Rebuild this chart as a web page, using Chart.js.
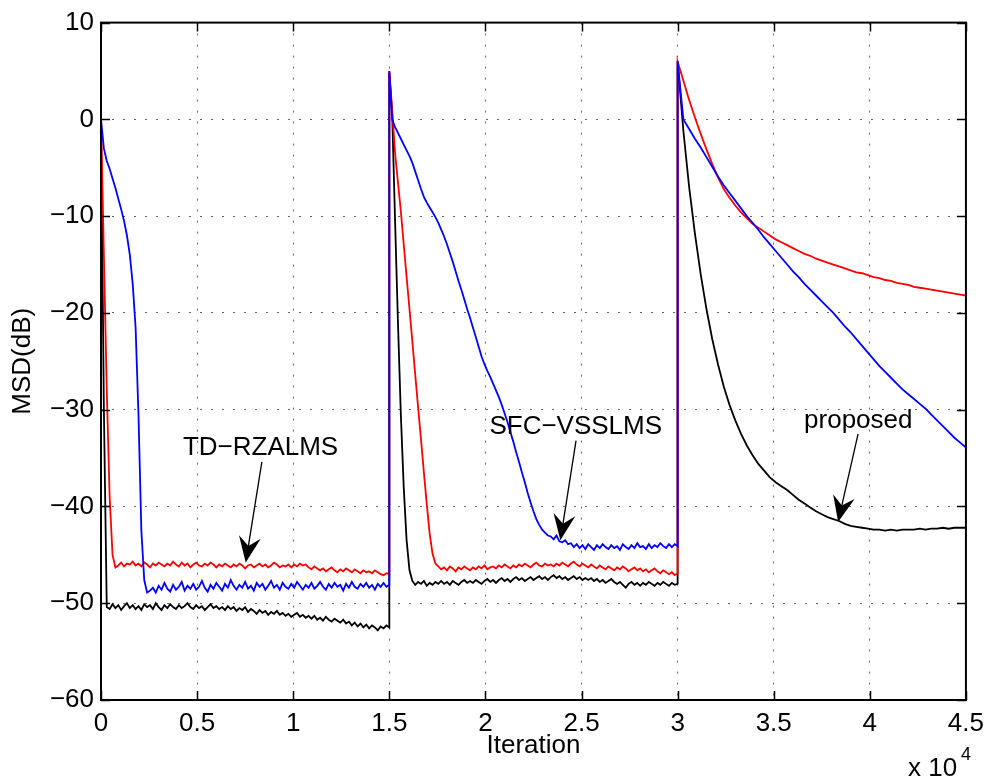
<!DOCTYPE html>
<html>
<head>
<meta charset="utf-8">
<script src="https://cdn.jsdelivr.net/npm/chart.js@4.4.1/dist/chart.umd.min.js"></script>
<style>
  html, body { margin: 0; padding: 0; background: #fff; }
  #wrap { width: 992px; height: 780px; }
</style>
</head>
<body>
<div id="wrap"><canvas id="msd" width="992" height="780"></canvas></div>
<script>
// MSD learning curves, three runs of 15000 iterations each (system changes at 1.5e4 and 3e4)
// each run is evenly sampled over its 15000 iterations (noisy runs every 150, smooth ones every 300)
// values in dB read off the figure
var runLength = 15000;

var xTickValues = [0, 5000, 10000, 15000, 20000, 25000, 30000, 35000, 40000, 45000];
var yTickValues = [-60, -50, -40, -30, -20, -10, 0, 10];

// SFC-VSSLMS (blue)
var blueRun1 = [
  0, -3.0, -4.3, -5.1, -6.1, -7.1, -8.2, -9.3, -10.5, -12.0,
  -14.0, -17.0, -21.5, -30.5, -42.5, -47.6, -48.9, -48.7,
  -48.4, -48.9, -48.2, -48.6, -47.9, -48.5, -48.8, -48.1, -48.6, -48.3,
  -47.8, -48.7, -48.2, -48.5, -48.0, -48.6, -48.3, -47.7, -48.4, -48.8,
  -48.1, -48.5, -47.9, -48.3, -48.7, -48.0, -48.4, -47.6, -48.2, -48.6,
  -48.1, -48.4, -47.8, -48.5, -48.2, -48.7, -47.9, -48.3, -48.0, -48.6,
  -48.2, -47.7, -48.4, -48.1, -48.6, -47.9, -48.3, -48.5, -48.0, -48.4,
  -47.8, -48.2, -48.6, -48.1, -48.4, -47.9, -48.5, -48.2, -47.8, -48.3,
  -48.6, -48.0, -48.4, -47.9, -48.3, -48.1, -48.7, -48.0, -48.4, -47.8,
  -48.3, -48.5, -48.0, -48.3, -47.9, -48.4, -48.1, -48.6, -48.0, -48.3,
  -47.9, -48.3, -48.1];
var blueRun2 = [
  5.0, 0.0, -0.8, -1.4, -2.0, -2.6, -3.2, -3.8, -4.5, -5.4,
  -6.3, -7.2, -8.0, -8.6, -9.1, -9.6, -10.1, -10.7, -11.4, -12.1,
  -12.9, -13.8, -14.7, -15.7, -16.7, -17.6, -18.6, -19.6, -20.5, -21.5,
  -22.5, -23.5, -24.5, -25.3, -26.0, -26.6, -27.3, -28.0, -28.7, -29.5,
  -30.4, -31.3, -32.3, -33.3, -34.4, -35.4, -36.5, -37.5, -38.6, -39.6,
  -40.5, -41.3, -41.9, -42.4, -42.7, -43.0, -43.1, -43.4, -43.0, -43.6,
  -43.7, -43.5, -43.9,
  -43.8, -44.2, -43.9, -44.3, -44.0, -44.4, -43.9, -44.2, -44.5, -44.0,
  -44.3, -43.9, -44.2, -44.4, -44.0, -44.3, -44.1, -44.5, -43.9, -44.2,
  -44.4, -44.0, -44.3, -43.8, -44.2, -44.1, -44.4, -43.9, -44.3, -44.0,
  -44.2, -43.8, -44.1, -44.3, -43.9, -44.2, -43.9, -44.1];
var blueRun3 = [
  6.0, 0.0, -1.0, -2.0, -2.9, -3.9, -4.9, -5.9, -6.8, -7.6,
  -8.4, -9.2, -10.0, -10.7, -11.4, -12.2, -12.9, -13.6, -14.3, -15.0,
  -15.7, -16.3, -17.0, -17.6, -18.2, -18.8, -19.4, -20.0, -20.7, -21.4,
  -22.0, -22.7, -23.4, -24.1, -24.8, -25.5, -26.1, -26.7, -27.3, -27.9,
  -28.4, -28.9, -29.4, -29.9, -30.5, -31.1, -31.7, -32.3, -32.9, -33.4,
  -33.9];
var blueRun4 = [6.0];

// TD-RZALMS (red)
var redRun1 = [
  0, -14.0, -28.0, -39.0, -45.0, -46.3,
  -46.1, -45.8, -46.2, -45.9, -46.0, -45.7, -46.1, -45.9, -46.2, -45.8,
  -46.0, -46.3, -45.9, -46.1, -45.8, -46.0, -46.2, -45.9, -46.1, -45.7,
  -46.0, -46.2, -45.8, -46.1, -45.9, -46.3, -46.0, -45.8, -46.1, -46.2,
  -45.9, -46.1, -45.8, -46.0, -46.3, -46.0, -46.2, -45.9, -46.1, -46.3,
  -46.0, -46.2, -45.9, -46.1, -46.4, -46.1, -46.0, -46.3, -46.1, -45.9,
  -46.2, -46.0, -46.3, -46.1, -45.8, -46.0, -46.3, -46.1, -46.2, -46.0,
  -46.3, -46.0, -46.2, -45.9, -46.1, -46.0, -46.3, -46.5, -46.2, -46.4,
  -46.6, -46.4, -46.7, -46.5, -46.3, -46.6, -46.8, -46.5, -46.7, -46.4,
  -46.6, -46.8, -46.5, -46.7, -46.9, -46.6, -46.8, -46.7, -46.9, -46.6,
  -46.8, -47.0, -47.1, -46.9, -47.0];
var redRun2 = [
  5.0, 1.0, -3.5, -6.5, -9.5, -12.9, -16.3, -19.6, -23.0, -26.4,
  -29.8, -33.1, -36.5, -39.8, -42.8, -44.9, -45.9,
  -46.2, -46.5, -46.3, -46.6, -46.2, -46.4, -46.7, -46.3, -46.5, -46.2,
  -46.4, -46.6, -46.3, -46.5, -46.2, -46.4, -46.1, -46.5, -46.3, -46.2,
  -46.4, -46.1, -46.3, -46.0, -46.2, -46.4, -46.1, -46.3, -46.0, -46.2,
  -45.9, -46.1, -46.3, -46.0, -45.8, -46.1, -46.2, -45.9, -46.1, -46.0,
  -46.2, -45.9, -46.1, -45.8, -46.0, -46.2, -45.9, -45.7, -46.0, -46.2,
  -45.9, -46.1, -46.3, -46.0, -46.2, -46.4, -46.1, -46.3, -46.5, -46.2,
  -46.4, -46.6, -46.3, -46.5, -46.2, -46.4, -46.7, -46.5, -46.3, -46.6,
  -46.4, -46.7, -46.5, -46.8, -46.6, -46.4, -46.7, -46.9, -46.6, -46.8,
  -47.0, -46.8, -47.1, -46.9];
var redRun3 = [
  6.0, 4.0, 2.0, 0.2, -1.5, -3.1, -4.6, -6.0, -7.2, -8.1,
  -8.9, -9.6, -10.2, -10.8, -11.2, -11.6, -12.0, -12.4, -12.7, -13.0,
  -13.3, -13.6, -13.9, -14.1, -14.4, -14.6, -14.8, -15.0, -15.2, -15.4,
  -15.6, -15.8, -15.9, -16.1, -16.3, -16.4, -16.6, -16.7, -16.9, -17.0,
  -17.1, -17.3, -17.4, -17.5, -17.6, -17.7, -17.8, -17.9, -18.0, -18.1,
  -18.2];
var redRun4 = [6.0];

// proposed (black)
var blackRun1 = [
  0, -30.0, -50.4,
  -50.6, -50.1, -50.5, -50.2, -50.7, -50.3, -50.0, -50.5, -50.2, -50.6,
  -50.3, -50.7, -50.1, -50.4, -50.2, -50.6, -50.0, -50.4, -50.7, -50.2,
  -50.5, -50.1, -50.4, -50.6, -50.2, -50.5, -50.3, -50.0, -50.4, -50.6,
  -50.2, -50.5, -50.3, -50.7, -50.4, -50.1, -50.5, -50.3, -50.6, -50.4,
  -50.7, -50.3, -50.6, -50.4, -50.8, -50.5, -50.7, -50.4, -50.9, -50.6,
  -50.8, -51.1, -50.7, -51.0, -50.8, -51.2, -50.9, -51.1, -50.8, -51.2,
  -51.0, -51.3, -51.1, -51.4, -51.2, -51.0, -51.4, -51.2, -51.5, -51.3,
  -51.6, -51.3, -51.7, -51.5, -51.8, -51.4, -51.7, -51.9, -51.6, -51.8,
  -52.0, -51.7, -52.1, -51.9, -52.3, -52.0, -52.4, -52.1, -52.5, -52.2,
  -52.6, -52.3, -52.5, -52.8, -52.4, -52.6, -52.3, -52.5];
var blackRun2 = [
  4.8, 0.5, -10.5, -21.0, -30.5, -38.0, -43.5, -46.6, -47.7,
  -48.1, -47.8, -48.0, -47.7, -48.2, -47.9, -48.1, -47.8, -48.0, -47.7,
  -48.0, -47.8, -48.1, -47.7, -47.9, -48.1, -47.8, -47.6, -47.9, -47.7,
  -47.9, -47.6, -47.8, -48.0, -47.7, -47.5, -47.8, -47.6, -47.9, -47.6,
  -47.4, -47.7, -47.5, -47.8, -47.5, -47.3, -47.6, -47.4, -47.7, -47.5,
  -47.3, -47.6, -47.4, -47.2, -47.5, -47.3, -47.6, -47.3, -47.1, -47.4,
  -47.2, -47.5, -47.3, -47.6, -47.4, -47.2, -47.5, -47.3, -47.6, -47.4,
  -47.6, -47.4, -47.7, -47.5, -47.8, -47.6, -47.9, -47.7, -47.5, -47.8,
  -48.0, -47.8, -48.1, -48.4, -48.0, -47.8, -48.1, -47.9, -48.2, -47.9,
  -48.1, -47.8, -48.0, -48.2, -47.9, -48.1, -47.8, -48.0, -48.2, -47.9,
  -48.1, -48.0];
var blackRun3 = [
  6.0, -1.2, -7.0, -11.8, -16.0, -19.6, -22.7, -25.3, -27.6, -29.5,
  -31.1, -32.5, -33.7, -34.7, -35.6, -36.3, -37.0, -37.5, -37.9, -38.3,
  -38.8, -39.3, -39.7, -40.1, -40.5, -40.8, -41.1, -41.3, -41.5, -41.8,
  -42.0, -42.1, -42.2, -42.3, -42.4, -42.4, -42.5, -42.4, -42.5, -42.4,
  -42.4, -42.4, -42.3, -42.4, -42.3, -42.3, -42.2, -42.3, -42.2, -42.2,
  -42.2];
var blackRun4 = [6.0];

// arrows + labels, in data units (iteration, dB)
var notes = [
  {text: 'TD\u2212RZALMS', at: [8300, -33.9], tail: [8370, -35.4], tip: [7530, -45.8]},
  {text: 'SFC\u2212VSSLMS', at: [24700, -31.8], tail: [24715, -33.2], tip: [23900, -43.5]},
  {text: 'proposed', at: [39400, -31.1], tail: [39390, -32.5], tip: [38350, -41.6]}
];

var FONT = '"Liberation Sans", Arial, Helvetica, sans-serif';

/** turn the sampled runs into {x, y} points, runs are joined so the jumps are vertical */
function toPoints(runs) {
  let pts = [];
  runs.forEach((run, r) => {
    let step = run.length > 1 ? runLength / (run.length - 1) : 0;
    run.forEach((v, k) => {
      pts.push({x: r * runLength + k * step, y: v});
    });
  });
  return pts;
}

function minusLabel(v) {
  return v < 0 ? '\u2212' + Math.abs(v) : String(v);
}

// matlab-like box: full frame with ticks pointing inwards, plus the arrow annotations
var matlabBox = {
  id: 'matlabBox',
  afterDatasetsDraw(chart) {
    const ctx = chart.ctx;
    const a = chart.chartArea;
    const xs = chart.scales.x;
    const ys = chart.scales.y;
    const tickLen = 9;

    ctx.save();
    ctx.strokeStyle = '#000';
    ctx.lineWidth = 1.5;
    ctx.beginPath();
    xTickValues.forEach(v => {
      let px = Math.round(xs.getPixelForValue(v)) + 0.5;
      ctx.moveTo(px, a.bottom); ctx.lineTo(px, a.bottom - tickLen);
      ctx.moveTo(px, a.top); ctx.lineTo(px, a.top + tickLen);
    });
    yTickValues.forEach(v => {
      let py = Math.round(ys.getPixelForValue(v)) + 0.5;
      ctx.moveTo(a.left, py); ctx.lineTo(a.left + tickLen, py);
      ctx.moveTo(a.right, py); ctx.lineTo(a.right - tickLen, py);
    });
    ctx.stroke();
    ctx.lineWidth = 2;
    ctx.strokeRect(a.left, a.top, a.right - a.left, a.bottom - a.top);

    // annotations
    ctx.fillStyle = '#000';
    ctx.font = '26px ' + FONT;
    ctx.textAlign = 'center';
    ctx.textBaseline = 'middle';
    notes.forEach(n => {
      ctx.fillText(n.text, xs.getPixelForValue(n.at[0]), ys.getPixelForValue(n.at[1]));
      let tx = xs.getPixelForValue(n.tail[0]), ty = ys.getPixelForValue(n.tail[1]);
      let hx = xs.getPixelForValue(n.tip[0]), hy = ys.getPixelForValue(n.tip[1]);
      let dx = hx - tx, dy = hy - ty;
      let len = Math.sqrt(dx * dx + dy * dy);
      dx /= len; dy /= len;
      let headL = 26, headW = 11;
      ctx.lineWidth = 1.3;
      ctx.beginPath();
      ctx.moveTo(tx, ty);
      ctx.lineTo(hx - dx * headL * 0.6, hy - dy * headL * 0.6);
      ctx.stroke();
      let bx = hx - dx * headL, by = hy - dy * headL;
      ctx.beginPath();
      ctx.moveTo(hx, hy);
      ctx.lineTo(bx - dy * headW, by + dx * headW);
      ctx.lineTo(hx - dx * headL * 0.65, hy - dy * headL * 0.65);
      ctx.lineTo(bx + dy * headW, by - dx * headW);
      ctx.closePath();
      ctx.fill();
    });

    // x 10^4 exponent under the right end of the x axis
    ctx.textAlign = 'left';
    ctx.textBaseline = 'alphabetic';
    ctx.font = '26px ' + FONT;
    ctx.fillText('x 10', 908, 776);
    ctx.font = '18px ' + FONT;
    ctx.fillText('4', 961, 760);
    ctx.restore();
  }
};

var gridStyle = {color: 'rgba(0,0,0,0.6)', lineWidth: 1, drawTicks: false};
var borderStyle = {display: false, dash: [2, 9]};

new Chart(document.getElementById('msd'), {
  type: 'line',
  data: {
    datasets: [
      {label: 'SFC-VSSLMS', data: toPoints([blueRun1, blueRun2, blueRun3, blueRun4]), borderColor: '#0000ff'},
      {label: 'TD-RZALMS', data: toPoints([redRun1, redRun2, redRun3, redRun4]), borderColor: '#ff0000'},
      {label: 'proposed', data: toPoints([blackRun1, blackRun2, blackRun3, blackRun4]), borderColor: '#000000'}
    ]
  },
  options: {
    responsive: false,
    animation: false,
    events: [],
    layout: {padding: {top: 16, right: 22, left: 0, bottom: 0}},
    elements: {
      point: {radius: 0},
      line: {borderWidth: 1.8, tension: 0, fill: false}
    },
    plugins: {legend: {display: false}, tooltip: {enabled: false}},
    scales: {
      x: {
        type: 'linear', min: 0, max: 45000,
        afterFit: s => { s.height = 80; },
        afterBuildTicks: s => { s.ticks = xTickValues.map(v => ({value: v})); },
        ticks: {
          callback: v => String(v / 10000),
          color: '#000', font: {family: FONT, size: 26}, padding: 8,
          maxRotation: 0, autoSkip: false
        },
        grid: gridStyle,
        border: borderStyle,
        title: {display: true, text: 'Iteration', color: '#000', font: {family: FONT, size: 26}, padding: {top: 0, bottom: 19}}
      },
      y: {
        min: -60, max: 10,
        afterFit: s => { s.width = 101; },
        afterBuildTicks: s => { s.ticks = yTickValues.map(v => ({value: v})); },
        ticks: {
          callback: v => minusLabel(v),
          color: '#000', font: {family: FONT, size: 26}, padding: 7
        },
        grid: gridStyle,
        border: borderStyle,
        title: {display: true, text: 'MSD(dB)', color: '#000', font: {family: FONT, size: 26}, padding: {top: 7, bottom: 0}}
      }
    }
  },
  plugins: [matlabBox]
});
</script>
</body>
</html>
